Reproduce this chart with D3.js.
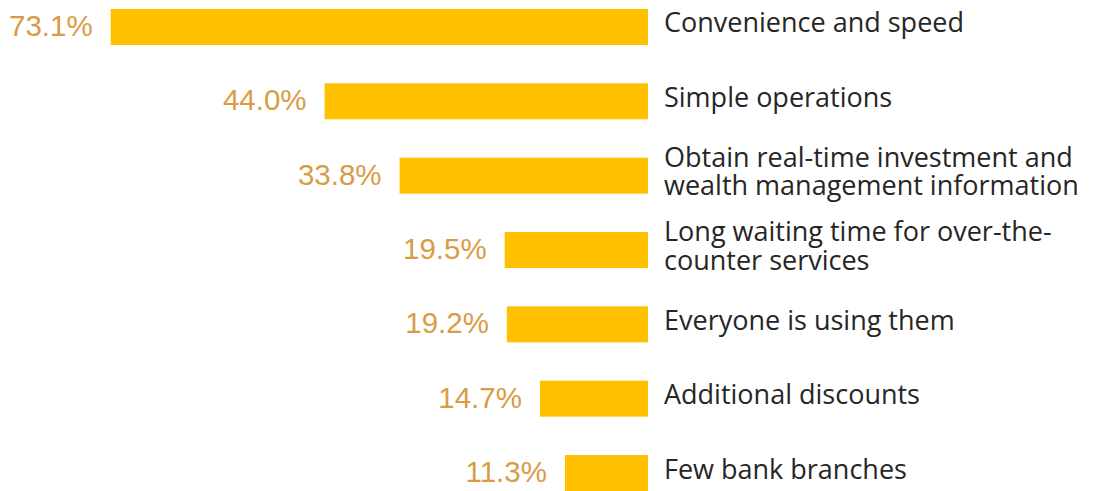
<!DOCTYPE html>
<html>
<head>
<meta charset="utf-8">
<script src="https://cdn.jsdelivr.net/npm/d3@7"></script>
<style>
  html, body { margin: 0; padding: 0; background: #ffffff; }
  svg { display: block; }
</style>
</head>
<body>
<svg id="chart" width="1094" height="491"></svg>
<script>
const categories = [
  ["Convenience and speed"],
  ["Simple operations"],
  ["Obtain real-time investment and", "wealth management information"],
  ["Long waiting time for over-the-", "counter services"],
  ["Everyone is using them"],
  ["Additional discounts"],
  ["Few bank branches"]
];
const values = [73.1, 44.0, 33.8, 19.5, 19.2, 14.7, 11.3];
const valueLabels = ["73.1%", "44.0%", "33.8%", "19.5%", "19.2%", "14.7%", "11.3%"];

const svg = d3.select("#chart");
const ids = categories.map((c, i) => i);

const y = d3.scaleBand()
  .domain(ids)
  .range([-10.2, 510.2])
  .paddingInner(0.516)
  .paddingOuter(0.258);

const x = d3.scaleLinear()
  .domain([0, 80])
  .range([648, 60]);

const barColor = "#FFC000";
const valueColor = "#D99C45";
const labelColor = "#262626";

svg.selectAll("rect.bar")
  .data(values)
  .join("rect")
  .attr("class", "bar")
  .attr("x", d => x(d))
  .attr("y", (d, i) => y(i))
  .attr("width", d => x(0) - x(d))
  .attr("height", y.bandwidth())
  .attr("fill", barColor);

svg.selectAll("text.value")
  .data(values)
  .join("text")
  .attr("class", "value")
  .attr("x", d => x(d) - 18)
  .attr("y", (d, i) => y(i) + y.bandwidth() / 2)
  .attr("dy", 9)
  .attr("text-anchor", "end")
  .attr("font-family", "Liberation Sans, Arial, sans-serif")
  .attr("font-size", 29.5)
  .attr("fill", valueColor)
  .text((d, i) => valueLabels[i]);

const lineH = 28.5;
const labels = svg.selectAll("text.cat")
  .data(categories)
  .join("text")
  .attr("class", "cat")
  .attr("x", 664)
  .attr("y", (d, i) => y(i) + y.bandwidth() / 2)
  .attr("font-family", "Segoe UI, Open Sans, Noto Sans, sans-serif")
  .attr("font-size", 27)
  .attr("fill", labelColor);

labels.each(function(lines) {
  const t = d3.select(this);
  const n = lines.length;
  lines.forEach((ln, k) => {
    t.append("tspan")
      .attr("x", 664)
      .attr("dy", k === 0 ? ((-(n - 1) / 2) * lineH + 5.5) : lineH)
      .text(ln);
  });
});
</script>
</body>
</html>
